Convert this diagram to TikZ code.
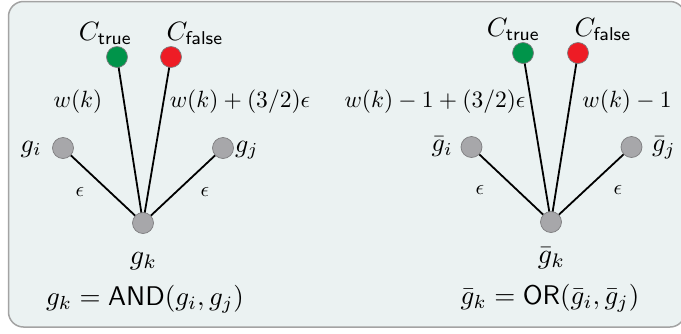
\documentclass[tikz,border=0pt]{standalone}
\usepackage{amsmath}
\usepackage{graphicx}
\usetikzlibrary{backgrounds}
\definecolor{boxbg}{HTML}{EBF2F2}
\definecolor{boxline}{HTML}{A3A3A3}
\definecolor{dotgray}{HTML}{A7A7AA}
\definecolor{dotline}{HTML}{7E7E80}
\definecolor{dotgreen}{HTML}{00944A}
\definecolor{dotred}{HTML}{EE1C25}
\newcommand{\Clab}[1]{\scalebox{2.65}{$C_{\mathsf{#1}}$}}
\newcommand{\Glab}[1]{\scalebox{2.6}{$#1$}}
\newcommand{\Klab}[1]{\scalebox{2.8}{$#1$}}
\newcommand{\Wlab}[1]{\scalebox{2.35}{$#1$}}
\newcommand{\Elab}{\scalebox{2.1}{$\epsilon$}}
\newcommand{\Flab}[1]{\scalebox{2.7}{$#1$}}
\begin{document}
\begin{tikzpicture}[x=1pt,y=-1pt,
  dot/.style={circle, minimum size=21pt, inner sep=0pt, line width=0.7pt, draw=dotline, fill=dotgray},
  gdot/.style={dot, fill=dotgreen},
  rdot/.style={dot, fill=dotred},
  link/.style={line width=1.8pt, black},
  lbl/.style={inner sep=0pt}]
\useasboundingbox (0,0) rectangle (681,333);

% left graph
\node[gdot] (lct) at (117,57) {};
\node[rdot] (lcf) at (171,57) {};
\node[dot] (lgi) at (63,148) {};
\node[dot] (lgj) at (223,148) {};
\node[dot] (lgk) at (143,223) {};

% right graph
\node[gdot] (rct) at (523,53) {};
\node[rdot] (rcf) at (578,53) {};
\node[dot] (rgi) at (471.5,147) {};
\node[dot] (rgj) at (631.5,147) {};
\node[dot] (rgk) at (551,222) {};

\begin{scope}[on background layer]
\draw[rounded corners=15pt, fill=boxbg, draw=boxline, line width=1.5pt] (8.5,1.5) rectangle (685,327);
\draw[link] (lct.center) -- (lgk.center);
\draw[link] (lcf.center) -- (lgk.center);
\draw[link] (lgi.center) -- (lgk.center);
\draw[link] (lgj.center) -- (lgk.center);
\draw[link] (rct.center) -- (rgk.center);
\draw[link] (rcf.center) -- (rgk.center);
\draw[link] (rgi.center) -- (rgk.center);
\draw[link] (rgj.center) -- (rgk.center);
\end{scope}

\node[lbl, anchor=base] (lctl) at (105.5,40.5) {\Clab{true}};
\node[lbl, anchor=base] (lcfl) at (195,40.5) {\Clab{false}};
\node[lbl, anchor=base] (lw1) at (78,107.5) {\Wlab{w(k)}};
\node[lbl, anchor=base] (lw2) at (240,107.5) {\Wlab{w(k)+(3/2)\epsilon}};
\node[lbl, anchor=base east] (lgil) at (42,152) {\Glab{g_i}};
\node[lbl, anchor=base west] (lgjl) at (235,152) {\Glab{g_j}};
\node[lbl] (le1) at (80,192) {\Elab};
\node[lbl] (le2) at (205,192) {\Elab};
\node[lbl, anchor=base] (lgkl) at (143.5,264) {\Klab{g_k}};
\node[lbl, anchor=base] (lf) at (145,305) {\Flab{g_k=\mathsf{AND}(g_i,g_j)}};

\node[lbl, anchor=base] (rctl) at (513.5,36.5) {\Clab{true}};
\node[lbl, anchor=base] (rcfl) at (603,36.5) {\Clab{false}};
\node[lbl, anchor=base] (rw1) at (435,107) {\Wlab{w(k)-1+(3/2)\epsilon}};
\node[lbl, anchor=base] (rw2) at (627,107) {\Wlab{w(k)-1}};
\node[lbl, anchor=base east] (rgil) at (453,151.5) {\Glab{\bar{g}_i}};
\node[lbl, anchor=base west] (rgjl) at (652,151.5) {\Glab{\bar{g}_j}};
\node[lbl] (re1) at (480,190) {\Elab};
\node[lbl] (re2) at (618,190) {\Elab};
\node[lbl, anchor=base] (rgkl) at (551.5,263) {\Klab{\bar{g}_k}};
\node[lbl, anchor=base] (rf) at (550,304) {\Flab{\bar{g}_k=\mathsf{OR}(\bar{g}_i,\bar{g}_j)}};
\end{tikzpicture}
\end{document}
